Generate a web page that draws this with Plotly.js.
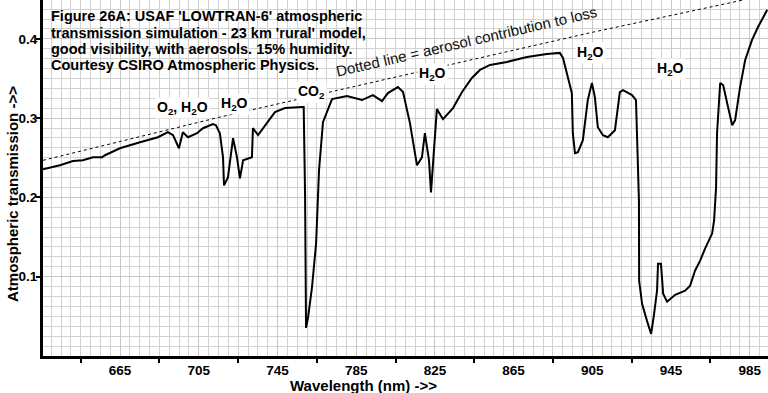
<!DOCTYPE html>
<html>
<head>
<meta charset="utf-8">
<script src="https://cdn.plot.ly/plotly-3.0.1.min.js"></script>
<style>html,body{margin:0;padding:0;background:#fff;}#chart{width:768px;height:393px;}</style>
</head>
<body>
<div id="chart"></div>
<script>
// Spectral transmission (wavelength in nm)
const wavelength = [625.8,634.4,641.0,646.1,651.2,655.8,657.3,664.9,675.1,684.2,689.3,691.9,694.9,696.9,699.5,704.1,707.1,712.2,713.7,715.7,717.3,717.8,719.8,722.4,724.4,725.9,727.5,732.0,732.5,735.1,743.7,748.8,757.4,758.3,759.0,759.5,760.5,762.5,764.6,766.1,768.1,772.7,780.3,787.9,793.5,798.1,801.1,806.2,808.8,812.3,815.9,818.4,819.9,822.0,823.0,824.5,826.0,829.1,834.2,838.8,843.8,847.9,853.0,861.6,871.8,881.9,888.5,890.1,892.6,894.6,895.1,896.2,897.7,900.2,902.7,904.8,906.3,907.8,910.4,912.9,916.5,919.0,920.6,925.2,927.2,927.7,928.7,928.8,930.3,932.8,934.9,936.4,937.9,938.4,939.9,941.0,943.0,947.1,952.2,954.7,957.2,959.8,962.3,965.9,966.9,967.9,968.4,970.0,971.5,974.0,976.1,977.6,980.1,982.7,986.2,989.3,993.9];
const transmission = [0.2354,0.2405,0.2459,0.2468,0.2506,0.2506,0.2532,0.2620,0.2696,0.2759,0.2823,0.2785,0.2620,0.2823,0.2759,0.2810,0.2873,0.2924,0.2911,0.2810,0.2506,0.2152,0.2253,0.2747,0.2506,0.2241,0.2468,0.2506,0.2873,0.2785,0.3076,0.3127,0.3139,0.3139,0.2051,0.0354,0.0481,0.0861,0.1418,0.2342,0.2949,0.3241,0.3278,0.3228,0.3291,0.3215,0.3316,0.3392,0.3329,0.2937,0.2405,0.2506,0.2810,0.2468,0.2063,0.2633,0.3114,0.2987,0.3127,0.3329,0.3506,0.3608,0.3671,0.3709,0.3772,0.3810,0.3823,0.3759,0.3519,0.3316,0.2810,0.2557,0.2570,0.2722,0.3228,0.3443,0.3266,0.2886,0.2785,0.2759,0.2848,0.3329,0.3354,0.3291,0.3228,0.2810,0.1962,0.0949,0.0658,0.0443,0.0278,0.0532,0.0823,0.1165,0.1165,0.0785,0.0684,0.0772,0.0823,0.0886,0.1076,0.1203,0.1354,0.1544,0.1709,0.2127,0.2810,0.3443,0.3418,0.3139,0.2911,0.2975,0.3392,0.3734,0.3987,0.4152,0.4367];
// Aerosol-only (dotted) line
const aerosolWavelength = [625.8,715.7,903.8,994.3];
const aerosolTransmission = [0.2468,0.3013,0.4076,0.4557];
// Tick labels
const xLabelVals = [665,705,745,785,825,865,905,945,985];
const xTickMarkVals = [645,685,725,765,805,845,885,925,965];
const yTickVals = [0.1,0.2,0.3,0.4];
const yTickText = ['0.1','0.2','0.3','0.4'];

const X0 = 625.8, X1 = 994.3, Y0 = 0, Y1 = 0.449;
const L = 43, W = 725, H = 356;
const px2paper = p => (p - L) / W;
const py2paper = p => 1 - p / H;

const FONT = 'Liberation Sans, Arial, sans-serif';
const bold = (s) => '<b>' + s + '</b>';

const titleLines = [
  "Figure 26A: USAF 'LOWTRAN-6' atmospheric",
  "transmission simulation - 23 km 'rural' model,",
  "good visibility, with aerosols. 15% humidity.",
  "Courtesy CSIRO Atmospheric Physics."
];
const titleY = [16, 32.5, 49, 65.5];

const annotations = [];
titleLines.forEach((t, i) => annotations.push({
  x: px2paper(49), y: py2paper(titleY[i]), xref: 'paper', yref: 'paper', xanchor: 'left', yanchor: 'middle',
  text: bold(t), showarrow: false, font: {family: FONT, size: 14.5, color: '#000'}
}));

const labels = [
  {t: 'O<sub>2</sub>, H<sub>2</sub>O', px: 182, py: 108},
  {t: 'H<sub>2</sub>O', px: 234, py: 104},
  {t: 'CO<sub>2</sub>', px: 311, py: 92},
  {t: 'H<sub>2</sub>O', px: 432, py: 74},
  {t: 'H<sub>2</sub>O', px: 590, py: 53},
  {t: 'H<sub>2</sub>O', px: 670, py: 69}
];
labels.forEach(l => annotations.push({
  x: px2paper(l.px), y: py2paper(l.py), xref: 'paper', yref: 'paper', xanchor: 'center', yanchor: 'middle',
  text: bold(l.t), showarrow: false, bgcolor: '#fff', borderpad: 1,
  font: {family: FONT, size: 14, color: '#000'}
}));

annotations.push({
  x: px2paper(466), y: py2paper(42), xref: 'paper', yref: 'paper', xanchor: 'center', yanchor: 'middle',
  text: 'Dotted line = aerosol contribution to loss', textangle: -13, showarrow: false,
  font: {family: FONT, size: 15, color: '#111'}
});

annotations.push({
  x: px2paper(12), y: py2paper(194), xref: 'paper', yref: 'paper', xanchor: 'center', yanchor: 'middle',
  text: bold('Atmospheric transmission ->>'), textangle: -90, showarrow: false,
  font: {family: FONT, size: 15, color: '#000'}
});
annotations.push({
  x: px2paper(363), y: py2paper(385), xref: 'paper', yref: 'paper', xanchor: 'center', yanchor: 'middle',
  text: bold('Wavelength (nm) ->>'), showarrow: false,
  font: {family: FONT, size: 15, color: '#000'}
});

const traces = [
  {x: aerosolWavelength, y: aerosolTransmission, xaxis: 'x2', yaxis: 'y2', mode: 'lines',
   line: {color: '#000', width: 1, dash: 'dot'}, hoverinfo: 'skip'},
  {x: wavelength, y: transmission, xaxis: 'x', yaxis: 'y', mode: 'lines',
   line: {color: '#000', width: 2}, hoverinfo: 'skip'}
];

const layout = {
  width: 768, height: 393,
  margin: {l: L, r: 0, t: 0, b: 393 - H},
  paper_bgcolor: '#fff', plot_bgcolor: '#fff',
  showlegend: false,
  xaxis: {
    range: [X0, X1], tickmode: 'array', tickvals: xLabelVals,
    ticks: '',
    showline: true, linecolor: '#000', linewidth: 3,
    showgrid: true, gridcolor: '#c8c8c8', gridwidth: 1,
    minor: {tick0: 625, dtick: 5, showgrid: true, gridcolor: '#d2d2d2', gridwidth: 1, ticks: ''},
    zeroline: false, automargin: false,
    tickfont: {family: FONT, size: 13.5, color: '#000', weight: 'bold'}
  },
  xaxis2: {
    range: [X0, X1], overlaying: 'x', side: 'bottom', tickmode: 'array', tickvals: xTickMarkVals,
    ticks: 'outside', ticklen: 6, tickwidth: 2, tickcolor: '#000',
    showticklabels: false, showline: false, showgrid: false, zeroline: false
  },
  yaxis: {
    range: [Y0, Y1], tickmode: 'array', tickvals: yTickVals, ticktext: yTickText,
    ticks: '',
    showline: true, linecolor: '#000', linewidth: 3,
    showgrid: true, gridcolor: '#c8c8c8', gridwidth: 1,
    minor: {dtick: 0.0125, showgrid: true, gridcolor: '#d2d2d2', gridwidth: 1, ticks: ''},
    zeroline: false, automargin: false,
    tickfont: {family: FONT, size: 13.5, color: '#000', weight: 'bold'}
  },
  yaxis2: {
    range: [Y0, Y1], overlaying: 'y', side: 'left', tickmode: 'array', tickvals: yTickVals,
    ticks: 'outside', ticklen: 6, tickwidth: 2, tickcolor: '#000',
    showticklabels: false, showline: false, showgrid: false, zeroline: false
  },
  shapes: [
    {type: 'rect', xref: 'paper', yref: 'paper', x0: px2paper(44), x1: px2paper(372), y0: py2paper(76), y1: 1,
     fillcolor: '#fff', line: {width: 0}, layer: 'between'}
  ],
  annotations: annotations
};

Plotly.newPlot('chart', traces, layout, {staticPlot: true, displayModeBar: false});
</script>
</body>
</html>
